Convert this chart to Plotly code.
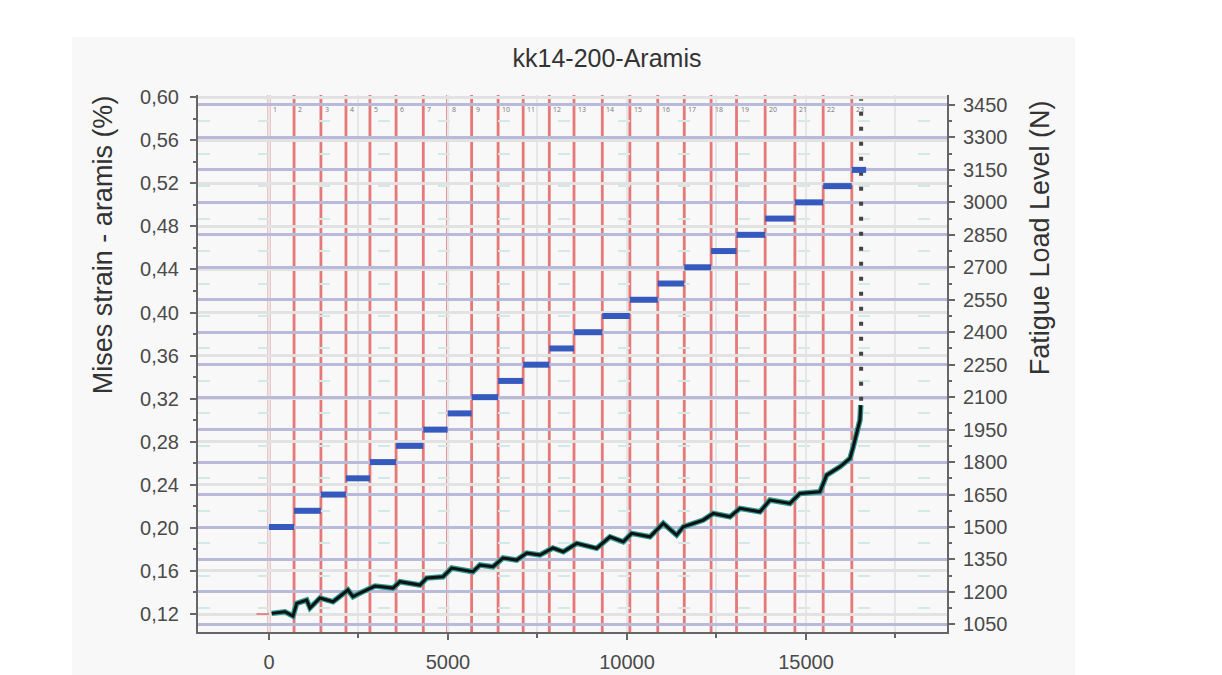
import plotly.graph_objects as go

# ---------------- data ----------------
# cycle counts where each load step starts (red vertical lines)
step_cycles = [0, 700, 1450, 2150, 2820, 3550, 4310, 4990, 5660, 6400, 7100, 7830,
               8520, 9310, 10080, 10860, 11600, 12350, 13060, 13860, 14690, 15480, 16280]
step_end_last = 16680
# fatigue load level of each step (N)
load_levels = [1500, 1575, 1650, 1725, 1800, 1875, 1950, 2025, 2100, 2175, 2250, 2325,
               2400, 2475, 2550, 2625, 2700, 2775, 2850, 2925, 3000, 3075, 3150]
step_labels = [str(i) for i in range(1, 24)]

# Mises strain (aramis) vs cycles
strain_cycles = [75, 447, 670, 774, 1053, 1145, 1424, 1788, 2206, 2346, 2542, 2961,
                 3463, 3659, 4217, 4405, 4860, 5103, 5698, 5893, 6256, 6536, 6918,
                 7198, 7569, 7932, 8220, 8594, 9152, 9524, 9896, 10130, 10641, 11013,
                 11387, 11572, 12130, 12410, 12876, 13155, 13714, 13993, 14552, 14831,
                 15389, 15576, 15948, 16228, 16320, 16415, 16508, 16530]
strain_values = [0.1206, 0.1221, 0.1181, 0.1299, 0.1330, 0.1256, 0.1349, 0.1314, 0.1423,
                 0.1361, 0.1395, 0.1460, 0.1441, 0.1500, 0.1469, 0.1534, 0.1546, 0.1627,
                 0.1593, 0.1655, 0.1639, 0.1720, 0.1701, 0.1766, 0.1748, 0.1813, 0.1778,
                 0.1856, 0.1810, 0.1917, 0.1871, 0.1949, 0.1917, 0.2042, 0.1933, 0.2010,
                 0.2072, 0.2134, 0.2103, 0.2181, 0.2149, 0.2258, 0.2227, 0.2320, 0.2335,
                 0.2490, 0.2567, 0.2645, 0.2753, 0.2877, 0.3000, 0.3140]
# dotted run-away points after failure
failure_cycles = [16540, 16540]
failure_strain = [0.318, 0.598]
# short baseline reference at start
base_cycles = [-350, 0]
base_strain = [0.12, 0.12]

# ---------------- figure ----------------
fig = go.Figure()

# blue load steps
bx, by = [], []
ends = step_cycles[1:] + [step_end_last]
for s, e, lv in zip(step_cycles, ends, load_levels):
    bx += [s, e, None]
    by += [lv, lv, None]
fig.add_trace(go.Scatter(x=bx, y=by, yaxis="y2", mode="lines",
                         line=dict(color="#3559bd", width=6), showlegend=False,
                         hoverinfo="skip"))

fig.add_trace(go.Scatter(x=base_cycles, y=base_strain, mode="lines",
                         line=dict(color="#e08a8a", width=2), showlegend=False))
fig.add_trace(go.Scatter(x=strain_cycles, y=strain_values, mode="lines",
                         line=dict(color="#2e9a92", width=5.5), showlegend=False))
fig.add_trace(go.Scatter(x=strain_cycles, y=strain_values, mode="lines",
                         line=dict(color="#111111", width=3), showlegend=False))
fig.add_trace(go.Scatter(x=failure_cycles, y=failure_strain, mode="lines",
                         line=dict(color="#444444", width=4, dash="4px,11px"),
                         showlegend=False))

# red vertical step lines + tiny step labels
shapes = [dict(type="rect", xref="paper", yref="paper",
               x0=-0.1682, x1=1.1709, y0=-0.09, y1=1.1078,
               fillcolor="#f8f8f8", line=dict(width=0), layer="below")]
annotations = []
for c, lab in zip(step_cycles, step_labels):
    shapes.append(dict(type="line", xref="x", yref="paper", x0=c, x1=c, y0=0, y1=1,
                       line=dict(color="rgba(226,88,88,0.8)", width=2.8), layer="between"))
    annotations.append(dict(x=c, y=0.985, xref="x", yref="paper", text=lab,
                            showarrow=False, xanchor="left", xshift=2,
                            font=dict(size=7, color="#777777")))

font_fam = "Liberation Sans, Arial, sans-serif"
annotations.append(dict(text="Mises strain - aramis (%)", textangle=-90, xref="paper",
                        yref="paper", x=-0.127, y=0.722, showarrow=False,
                        xanchor="center", yanchor="middle",
                        font=dict(size=27, color="#333333", family=font_fam)))
annotations.append(dict(text="Fatigue Load Level (N)", textangle=-90, xref="paper",
                        yref="paper", x=1.124, y=0.735, showarrow=False,
                        xanchor="center", yanchor="middle",
                        font=dict(size=27, color="#333333", family=font_fam)))

axis_common = dict(showline=True, linecolor="#666666", linewidth=2, ticks="outside",
                   tickcolor="#666666", tickwidth=2, ticklen=6, zeroline=False,
                   automargin=False,
                   tickfont=dict(size=20, color="#4a4a4a", family=font_fam))

fig.update_layout(
    width=1214, height=667,
    margin=dict(l=190, r=275, t=87, b=43, autoexpand=False),
    paper_bgcolor="white", plot_bgcolor="rgba(0,0,0,0)",
    separators=",.",
    title=dict(text="kk14-200-Aramis", x=0.4934, xref="container", xanchor="center",
               y=0.925, yref="container", yanchor="middle",
               font=dict(size=25, color="#333333", family=font_fam)),
    xaxis=dict(range=[-1983, 18939], tick0=0, dtick=5000, tickformat="d",
               ticklabelstandoff=5,
               showgrid=True, gridcolor="#e6e6e6", gridwidth=1.5,
               minor=dict(dtick=2500, tick0=0, ticks="outside", ticklen=4,
                          tickcolor="#666666", showgrid=True, gridcolor="#e6e6e6"),
               **axis_common),
    yaxis=dict(range=[0.1033, 0.602], tick0=0.12, dtick=0.04, tickformat=".2f",
               ticklabelstandoff=7,
               showgrid=True, gridcolor="#e2e2e2", gridwidth=2.5,
               minor=dict(dtick=0.02, tick0=0.12, ticks="outside", ticklen=3,
                          tickcolor="#666666", showgrid=False),
               **axis_common),
    yaxis2=dict(range=[1015, 3496], tick0=1050, dtick=150, tickformat="d",
                ticklabelstandoff=4,
                overlaying="y", side="right",
                showgrid=True, gridcolor="#b9b9d9", gridwidth=2.5,
                minor=dict(dtick=75, tick0=1050, ticks="outside", ticklen=3,
                           tickcolor="#666666", showgrid=True, gridcolor="#d2e9e7",
                           gridwidth=2, griddash="12px,48px"),
                **axis_common),
    shapes=shapes,
    annotations=annotations,
    showlegend=False,
)

fig.write_html("out.html")
